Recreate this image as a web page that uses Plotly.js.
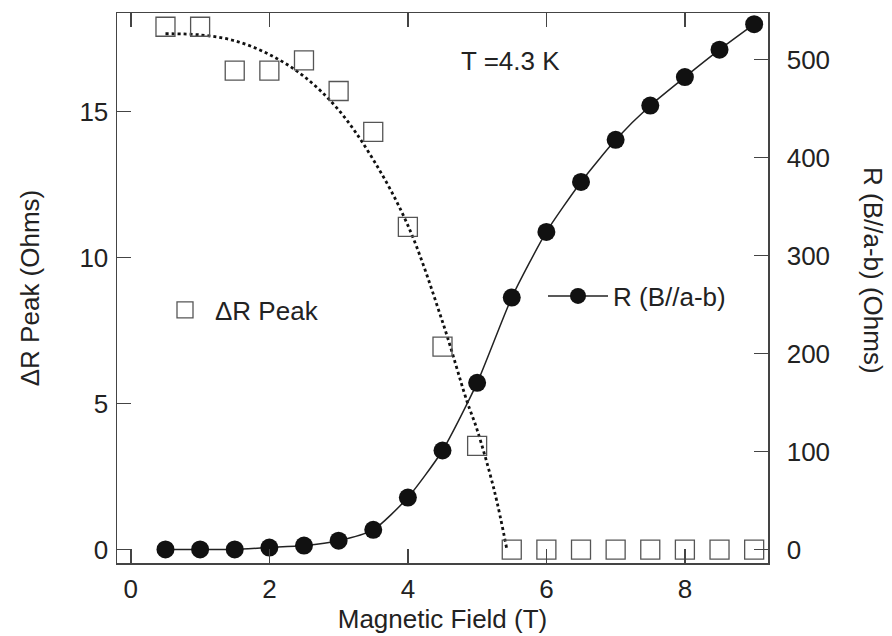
<!DOCTYPE html>
<html>
<head>
<meta charset="utf-8">
<script src="https://cdn.plot.ly/plotly-3.0.1.min.js"></script>
<style>html,body{margin:0;padding:0;background:#fff;}#chart{width:892px;height:636px;}</style>
</head>
<body>
<div id="chart"></div>
<script>
// Magnetic field (T)
const fieldB = [0.5, 1.0, 1.5, 2.0, 2.5, 3.0, 3.5, 4.0, 4.5, 5.0, 5.5, 6.0, 6.5, 7.0, 7.5, 8.0, 8.5, 9.0];
// ΔR Peak (Ohms), open squares, left axis
const deltaRPeak = [17.9, 17.9, 16.4, 16.4, 16.75, 15.7, 14.3, 11.05, 6.95, 3.55, 0, 0, 0, 0, 0, 0, 0, 0];
// R (B//a-b) (Ohms), filled circles, right axis
const rAB = [0, 0, 0, 2, 4, 9, 20, 53, 101, 170, 257, 324, 375, 418, 453, 482, 510, 536];
// dotted guide curve
const guideB = [0.5, 1.0, 1.5, 2.0, 2.5, 3.0, 3.5, 4.0, 4.5, 4.85, 5.0, 5.25, 5.43];
const guideDR = [17.66, 17.62, 17.42, 16.95, 16.2, 15.05, 13.35, 11.1, 7.8, 5.1, 4.1, 2.0, 0];

const xTicks = [0, 2, 4, 6, 8];
const yTicks = [0, 5, 10, 15];
const y2Ticks = [0, 100, 200, 300, 400, 500];

const FONT = 'Liberation Sans, Arial, sans-serif';
const FS = 26;
const TXT = '#222';
const AX = '#444';

const traces = [
  {
    x: guideB, y: guideDR, type: 'scatter', mode: 'lines',
    line: {color: '#111', width: 2.8, dash: 'dot', shape: 'spline'},
    showlegend: false, hoverinfo: 'skip'
  },
  {
    x: fieldB, y: deltaRPeak, type: 'scatter', mode: 'markers', name: 'ΔR Peak',
    marker: {symbol: 'square-open', size: 19, color: '#555', line: {width: 1.3, color: '#555'}},
    legend: 'legend'
  },
  {
    x: fieldB, y: rAB, type: 'scatter', mode: 'lines+markers', name: 'R (B//a-b)',
    yaxis: 'y2',
    line: {color: '#222', width: 1.5, shape: 'spline', smoothing: 0.6},
    marker: {symbol: 'circle', size: 18, color: '#111'},
    legend: 'legend2'
  }
];

const layout = {
  width: 892, height: 636,
  margin: {l: 117, r: 124, t: 13, b: 73},
  paper_bgcolor: '#fff', plot_bgcolor: '#fff',
  font: {family: FONT, size: FS, color: TXT},
  xaxis: {
    range: [-0.2, 9.2], tickvals: xTicks, ticktext: xTicks.map(String),
    ticks: 'inside', ticklen: 14, tickwidth: 1.5, tickcolor: AX,
    showline: true, linecolor: AX, linewidth: 1.5, mirror: 'ticks',
    showgrid: false, zeroline: false,
    ticklabelstandoff: 2,
    tickfont: {family: FONT, size: FS, color: TXT},
    title: {text: 'Magnetic Field (T)', font: {family: FONT, size: FS, color: TXT}, standoff: 0}
  },
  yaxis: {
    range: [-0.46, 18.37], tickvals: yTicks, ticktext: yTicks.map(String),
    ticks: 'inside', ticklen: 14, tickwidth: 1.5, tickcolor: AX,
    showline: true, linecolor: AX, linewidth: 1.5, mirror: false,
    showgrid: false, zeroline: false,
    ticklabelstandoff: 2,
    tickfont: {family: FONT, size: FS, color: TXT},
    title: {text: 'ΔR Peak (Ohms)', font: {family: FONT, size: FS, color: TXT}, standoff: 32}
  },
  yaxis2: {
    overlaying: 'y', side: 'right',
    range: [-13.8, 547.4], tickvals: y2Ticks, ticktext: y2Ticks.map(String),
    ticks: 'inside', ticklen: 14, tickwidth: 1.5, tickcolor: AX,
    showline: true, linecolor: AX, linewidth: 1.5,
    showgrid: false, zeroline: false,
    ticklabelstandoff: 12,
    tickfont: {family: FONT, size: FS, color: TXT}
  },
  legend: {
    x: (155 - 117) / 651, y: (563 - 310) / 550, xanchor: 'left', yanchor: 'middle',
    bgcolor: 'rgba(0,0,0,0)', borderwidth: 0, itemwidth: 50,
    font: {family: FONT, size: FS, color: TXT}
  },
  legend2: {
    x: (543 - 117) / 651, y: (563 - 296) / 550, xanchor: 'left', yanchor: 'middle',
    bgcolor: 'rgba(0,0,0,0)', borderwidth: 0, itemwidth: 60,
    font: {family: FONT, size: FS, color: TXT}
  },
  annotations: [
    {text: 'T =4.3 K', xref: 'paper', yref: 'paper', x: (510 - 117) / 651, y: (563 - 61) / 550,
     xanchor: 'center', yanchor: 'middle', showarrow: false,
     font: {family: FONT, size: FS, color: TXT}},
    {text: 'R (B//a-b) (Ohms)', xref: 'paper', yref: 'paper', x: (873 - 117) / 651, y: (563 - 270) / 550,
     xanchor: 'center', yanchor: 'middle', showarrow: false, textangle: 90,
     font: {family: FONT, size: FS, color: TXT}}
  ],
  showlegend: true
};

Plotly.newPlot('chart', traces, layout, {displayModeBar: false, staticPlot: true});
</script>
</body>
</html>
